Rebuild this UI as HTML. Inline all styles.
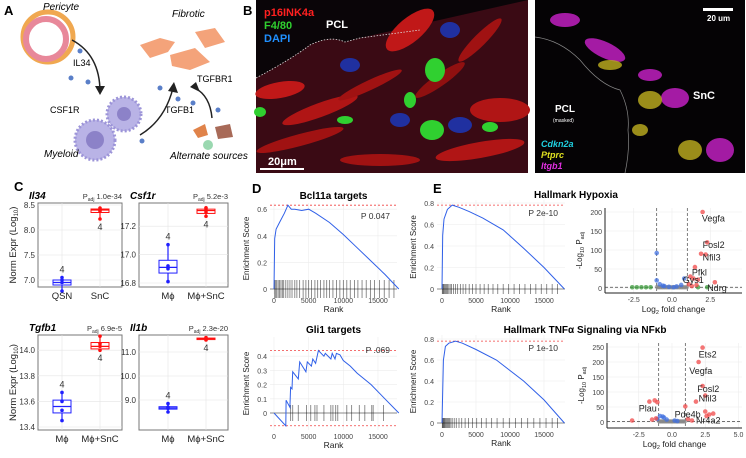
<!DOCTYPE html>
<html><head><meta charset="utf-8">
<style>
html,body{margin:0;padding:0;background:#fff;}
svg{display:block;font-family:"Liberation Sans",Arial,sans-serif;}
</style></head>
<body>
<svg id="fig" width="746" height="458" viewBox="0 0 746 458" xmlns="http://www.w3.org/2000/svg">
<text x="4" y="15" font-size="13" font-weight="bold">A</text>
<text x="243" y="15" font-size="13" font-weight="bold">B</text>
<text x="14" y="191" font-size="13" font-weight="bold">C</text>
<text x="252" y="193" font-size="13" font-weight="bold">D</text>
<text x="433" y="193" font-size="13" font-weight="bold">E</text>

<g>
 <circle cx="48" cy="37" r="25" fill="none" stroke="#f0a850" stroke-width="5"/>
 <circle cx="46" cy="39" r="20" fill="none" stroke="#e8889a" stroke-width="6"/>
 <text x="43" y="10" font-size="10" font-style="italic">Pericyte</text>
 <path d="M72 40 Q100 55 100 92" fill="none" stroke="#222" stroke-width="1.5"/>
 <path d="M95 86 L100 95 L105 86 Z" fill="#222"/>
 <text x="73" y="66" font-size="9">IL34</text>
 <circle cx="80" cy="51" r="2.5" fill="#5a7fc8"/><circle cx="71" cy="78" r="2.5" fill="#5a7fc8"/><circle cx="88" cy="82" r="2.5" fill="#5a7fc8"/>
 <circle cx="95" cy="140" r="20" fill="#b9b3e6" stroke="#9c94d8" stroke-dasharray="2 2" stroke-width="3"/>
 <circle cx="95" cy="140" r="9" fill="#8c82c8"/>
 <circle cx="124" cy="114" r="17" fill="#b9b3e6" stroke="#9c94d8" stroke-dasharray="2 2" stroke-width="3"/>
 <circle cx="124" cy="114" r="7" fill="#8c82c8"/>
 <text x="50" y="113" font-size="9">CSF1R</text>
 <text x="44" y="157" font-size="10" font-style="italic">Myeloid</text>
 <text x="172" y="17" font-size="10" font-style="italic">Fibrotic</text>
 <path d="M140 45 L160 38 L175 42 L168 52 L150 58 Z" fill="#f4a37a"/>
 <path d="M195 32 L215 28 L225 42 L205 48 Z" fill="#f4a37a"/>
 <path d="M170 55 L195 48 L210 62 L190 70 L172 66 Z" fill="#f4a37a"/>
 <text x="197" y="82" font-size="9">TGFBR1</text>
 <text x="165" y="113" font-size="9">TGFB1</text>
 <path d="M140 135 Q165 120 173 88" fill="none" stroke="#222" stroke-width="1.5"/>
 <path d="M168 91 L174 82 L178 93 Z" fill="#222"/>
 <path d="M212 118 Q210 96 195 88" fill="none" stroke="#222" stroke-width="1.5"/>
 <path d="M196 82 L190 87 L200 92 Z" fill="#222"/>
 <circle cx="160" cy="88" r="2.5" fill="#5a7fc8"/><circle cx="178" cy="99" r="2.5" fill="#5a7fc8"/><circle cx="193" cy="103" r="2.5" fill="#5a7fc8"/><circle cx="218" cy="110" r="2.5" fill="#5a7fc8"/><circle cx="142" cy="141" r="2.5" fill="#5a7fc8"/>
 <path d="M193 130 L205 124 L208 135 L198 138 Z" fill="#e0834a"/><path d="M215 127 L230 124 L233 137 L218 139 Z" fill="#a86a58"/>
 <circle cx="208" cy="145" r="5" fill="#9ad8b0"/>
 <text x="170" y="159" font-size="10" font-style="italic">Alternate sources</text>
</g>

<g>
 <rect x="256" y="0" width="272" height="173" fill="#0a0508"/>
 <path d="M256 78 Q290 60 310 45 Q330 35 345 42 L360 38 L528 0 L528 173 L256 173 Z" fill="#3a0a14"/>
 <ellipse cx="280" cy="90" rx="25" ry="8" fill="#c01818" transform="rotate(-10 280 90)"/>
 <ellipse cx="320" cy="110" rx="40" ry="7" fill="#b01515" transform="rotate(-20 320 110)"/>
 <ellipse cx="300" cy="140" rx="45" ry="6" fill="#a01212" transform="rotate(-15 300 140)"/>
 <ellipse cx="410" cy="30" rx="30" ry="12" fill="#c01818" transform="rotate(-40 410 30)"/>
 <ellipse cx="500" cy="110" rx="30" ry="12" fill="#b01515"/>
 <ellipse cx="480" cy="150" rx="45" ry="8" fill="#b01515" transform="rotate(-10 480 150)"/>
 <ellipse cx="380" cy="160" rx="40" ry="6" fill="#a01212"/>
 <ellipse cx="440" cy="80" rx="30" ry="6" fill="#901010" transform="rotate(-35 440 80)"/>
 <ellipse cx="370" cy="85" rx="35" ry="5" fill="#a01212" transform="rotate(-25 370 85)"/>
 <ellipse cx="480" cy="40" rx="30" ry="6" fill="#a01212" transform="rotate(-45 480 40)"/>
 <ellipse cx="350" cy="65" rx="10" ry="7" fill="#2030a0"/><ellipse cx="450" cy="30" rx="10" ry="8" fill="#2030a0"/>
 <ellipse cx="460" cy="125" rx="12" ry="8" fill="#2030a0"/><ellipse cx="400" cy="120" rx="10" ry="7" fill="#2030a0"/>
 <ellipse cx="435" cy="70" rx="10" ry="12" fill="#30d030"/><ellipse cx="432" cy="130" rx="12" ry="10" fill="#30d030"/>
 <ellipse cx="490" cy="127" rx="8" ry="5" fill="#30d030"/><ellipse cx="410" cy="100" rx="6" ry="8" fill="#30d030"/>
 <ellipse cx="345" cy="120" rx="8" ry="4" fill="#30d030"/><ellipse cx="260" cy="112" rx="6" ry="5" fill="#30d030"/>
 <path d="M256 78 Q290 60 310 45 Q330 35 345 42 L360 38 L420 30" fill="none" stroke="#ddd" stroke-dasharray="1.5 1.5" stroke-width="0.8"/>
 <text x="264" y="16" font-size="11" font-weight="bold" fill="#ff2020">p16INK4a</text>
 <text x="264" y="29" font-size="11" font-weight="bold" fill="#30d030">F4/80</text>
 <text x="264" y="42" font-size="11" font-weight="bold" fill="#2090ff">DAPI</text>
 <text x="326" y="28" font-size="11" font-weight="bold" fill="#fff">PCL</text>
 <rect x="260" y="168" width="44" height="2" fill="#fff"/>
 <text x="268" y="165" font-size="11" font-weight="bold" fill="#fff">20μm</text>
</g>
<g>
 <rect x="535" y="0" width="210" height="173" fill="#050305"/>
 <path d="M535 37 Q560 40 580 60 Q600 85 620 90 Q630 110 628 130 Q630 150 625 173" fill="none" stroke="#888" stroke-width="0.7"/>
 <g fill="#c020c0" opacity="0.85">
  <ellipse cx="565" cy="20" rx="15" ry="7"/><ellipse cx="605" cy="50" rx="22" ry="8" transform="rotate(25 605 50)"/>
  <ellipse cx="675" cy="98" rx="14" ry="10"/><ellipse cx="720" cy="150" rx="14" ry="12"/><ellipse cx="650" cy="75" rx="12" ry="6"/>
 </g>
 <g fill="#c0b020" opacity="0.8">
  <ellipse cx="610" cy="65" rx="12" ry="5"/><ellipse cx="650" cy="100" rx="12" ry="9"/><ellipse cx="690" cy="150" rx="12" ry="10"/><ellipse cx="640" cy="130" rx="8" ry="6"/>
 </g>
 <rect x="703" y="8" width="30" height="3" fill="#fff"/>
 <text x="707" y="21" font-size="8" font-weight="bold" fill="#fff">20 um</text>
 <text x="693" y="99" font-size="11" font-weight="bold" fill="#fff">SnC</text>
 <text x="555" y="112" font-size="10" font-weight="bold" fill="#fff">PCL</text>
 <text x="553" y="122" font-size="5" fill="#fff">(masked)</text>
 <text x="541" y="147" font-size="9" font-weight="bold" font-style="italic" fill="#20d0e0">Cdkn2a</text>
 <text x="541" y="158" font-size="9" font-weight="bold" font-style="italic" fill="#e0e020">Ptprc</text>
 <text x="541" y="169" font-size="9" font-weight="bold" font-style="italic" fill="#e030e0">Itgb1</text>
</g>
<g id="charts"></g>
</svg>
<script>
// ---------- Box plot data ----------
const il34Groups = ["QSN","SnC"];
const il34Points = [[6.78,6.95,7.0,7.05],[8.22,8.38,8.4,8.44]];
const il34Box = [[6.9,6.95,7.0],[8.35,8.4,8.42]];
const il34Ticks = [7.0,7.5,8.0,8.5];
const csf1rGroups = ["Mϕ","Mϕ+SnC"];
const csf1rPoints = [[16.81,16.9,16.92,17.07],[17.27,17.3,17.32,17.33]];
const csf1rBox = [[16.87,16.91,16.96],[17.29,17.31,17.32]];
const csf1rTicks = [16.8,17.0,17.2];
const tgfb1Groups = ["Mϕ","Mϕ+SnC"];
const tgfb1Points = [[13.45,13.53,13.6,13.67],[14.0,14.03,14.05,14.11]];
const tgfb1Box = [[13.51,13.56,13.61],[14.01,14.03,14.06]];
const tgfb1Ticks = [13.4,13.6,13.8,14.0];
const il1bGroups = ["Mϕ","Mϕ+SnC"];
const il1bPoints = [[8.5,8.65,8.7,8.85],[11.5,11.55,11.6]];
const il1bBox = [[8.62,8.67,8.72],[11.53,11.56,11.58]];
const il1bTicks = [9.0,10.0,11.0];
// ---------- GSEA data ----------
const bcl11aRank = [0,100,300,800,1500,2000,2500,3000,4000,5000,6000,8000,10000,12000,14000,16000,18000];
const bcl11aES = [0,0.38,0.45,0.5,0.57,0.63,0.6,0.6,0.59,0.6,0.57,0.5,0.41,0.31,0.21,0.11,0];
const bcl11aHits = [100,250,400,600,800,1000,1200,1400,1700,2000,2300,2600,3000,3300,3700,4200,4600,5000,5400,5900,6300,6700,7200,7600,8000,8500,9000,9500,10000,10500,11000,11600,12100,12700,13300,13900,14500,15200,15900,16600,17300];
const bcl11aTicks = [0,0.2,0.4,0.6];
const gli1Rank = [0,1700,1750,2300,2400,2600,2700,3500,3700,4600,4800,5400,5600,6000,6400,7200,7400,8200,8400,8800,9000,9500,10000,11000,12000,14000,16000,18000];
const gli1ES = [0,-0.09,0.09,0.04,0.18,0.17,0.29,0.24,0.36,0.29,0.36,0.33,0.38,0.35,0.44,0.4,0.42,0.38,0.42,0.38,0.42,0.41,0.37,0.33,0.28,0.2,0.1,0];
const gli1Hits = [2400,2700,3500,4700,5300,5900,6200,7200,8200,8500,8900,9200,10500,11200,12300,13100,14100,14300,15800];
const gli1Ticks = [0,0.1,0.2,0.3,0.4];
const hypoxiaRank = [0,100,300,800,1500,2500,4000,6000,9000,12000,15000,18000];
const hypoxiaES = [0,0.5,0.65,0.74,0.78,0.76,0.72,0.66,0.55,0.38,0.2,0];
const hypoxiaHits = [50,150,250,350,500,650,800,1000,1200,1400,1700,2000,2300,2700,3100,3500,4000,4500,5000,5600,6200,6800,7500,8200,9000,9800,10600,11400,12200,13000,13800,14600,15400,16200,17000];
const tnfRank = [0,200,500,1000,2000,3000,5000,8000,12000,15000,18000];
const tnfES = [0,0.6,0.73,0.76,0.78,0.76,0.7,0.6,0.4,0.22,0];
const tnfHits = [50,120,200,300,400,500,650,800,950,1100,1300,1500,1800,2100,2500,2900,3400,3900,4500,5100,5800,6500,7300,8100,9000,9900,10800,11700,12600,13500,14400,15300,16200,17000];
const esTicks08 = [0,0.2,0.4,0.6,0.8];
const rankTicks = [0,5000,10000,15000];
// ---------- Volcano data ----------
const hypRedLfc = [2,2.3,1.9,2.2,1.5,1.2,1.4,1.7,2.8,1.1,1.3,1.6];
const hypRedP = [200,120,90,88,55,30,25,22,15,10,5,8];
const hypBlueLfc = [-1,-1,-0.8,-0.5,-0.2,0.3,0.8,0.6,-0.6,0.1];
const hypBlueP = [92,20,10,5,3,4,25,8,6,2];
const hypGreenLfc = [-2.6,-2.3,-2,-1.7,-1.4,1.7,2.3];
const hypGreenP = [2,2,2,2,2,2,2];
const tnfRedLfc = [2.3,2,2.3,2.5,1.8,1,-1.3,-1.7,-1.1,2.5,2.8,3.1,2.6,-3,-1.5,1.2,1.5,-1.2];
const tnfRedP = [248,200,120,88,68,52,72,68,66,35,25,28,20,5,8,10,5,12];
const tnfBlueLfc = [-0.9,-0.6,-0.4,0.2,-1.1,-0.7,0.4];
const tnfBlueP = [20,15,8,5,10,18,3];

const NS="http://www.w3.org/2000/svg";
const root=document.getElementById('charts');
function mk(tag,attrs,parent){const e=document.createElementNS(NS,tag);for(const k in attrs)e.setAttribute(k,attrs[k]);(parent||root).appendChild(e);return e;}
function txt(s,attrs,parent){const e=mk('text',attrs,parent);e.textContent=s;return e;}

function boxPanel(cfg){
 const g=mk('g',{});
 
 
 const y=v=>cfg.y0+(v-cfg.v0)*cfg.sy;
 mk('rect',{x:cfg.x0,y:cfg.top,width:cfg.x1-cfg.x0,height:cfg.bot-cfg.top,fill:'#fff',stroke:'#777','stroke-width':1},g);
 cfg.ticks.forEach(t=>{
  mk('line',{x1:cfg.x0,x2:cfg.x1,y1:y(t),y2:y(t),stroke:'#e4e4e4','stroke-width':0.6},g);
  const tl=txt(t.toFixed(1),{x:cfg.x0-3,y:y(t)+3,'font-size':8,'text-anchor':'end',fill:'#333'},g);
  
  
 });
 cfg.groups.forEach((gn,i)=>{
  const cx=cfg.xs[i], col=i==0?'#2020ff':'#ff1010';
  mk('line',{x1:cx,x2:cx,y1:cfg.top,y2:cfg.bot,stroke:'#e4e4e4','stroke-width':0.6},g);
  const pts=cfg.points[i], b=cfg.box[i];
  const lo=Math.min(...pts), hi=Math.max(...pts);
  mk('line',{x1:cx,x2:cx,y1:y(lo),y2:y(hi),stroke:col,'stroke-width':1.2},g);
  const r=mk('rect',{x:cx-9,y:y(b[2]),width:18,height:Math.max(1.5,y(b[0])-y(b[2])),fill:'#fff',stroke:col,'stroke-width':1},g);
  
  
  mk('line',{x1:cx-9,x2:cx+9,y1:y(b[1]),y2:y(b[1]),stroke:col,'stroke-width':1.2},g);
  pts.forEach(p=>{const c=mk('circle',{cx:cx,cy:y(p),r:1.8,fill:col},g);
   
   });
  const ny=i==0?y(hi)-5:y(lo)+11;
  txt('4',{x:cx,y:ny,'font-size':9,'text-anchor':'middle',fill:'#333'},g);
  const xl=txt(gn,{x:cx,y:cfg.bot+12,'font-size':9.5,'text-anchor':'middle',fill:'#222'},g);
  
  
 });
 const t=txt(cfg.gene,{x:cfg.x0-9,y:cfg.top-4,'font-size':10,'font-weight':'bold','font-style':'italic'},g);
 
 
 const p=txt('',{x:cfg.x1,y:cfg.top-4,'font-size':7.5,'text-anchor':'end',fill:'#333'},g);
 p.innerHTML='P<tspan font-size="5" dy="2">adj</tspan><tspan dy="-2"> '+cfg.p+'</tspan>';
 
 
 if(cfg.ylab){const yl=txt('',{transform:`translate(16,${(cfg.top+cfg.bot)/2}) rotate(-90)`,'font-size':9.5,'text-anchor':'middle',fill:'#222'},g);
  yl.innerHTML='Norm Expr (Log<tspan font-size="6" dy="2">10</tspan><tspan dy="-2">)</tspan>';
  
  }
}
boxPanel({name:'box-il34',gene:'Il34',p:'1.0e-34',groups:il34Groups,points:il34Points,box:il34Box,ticks:il34Ticks,x0:38,x1:122,top:203,bot:287,xs:[62,100],y0:280,v0:7.0,sy:-50,ylab:true});
boxPanel({name:'box-csf1r',gene:'Csf1r',p:'5.2e-3',groups:csf1rGroups,points:csf1rPoints,box:csf1rBox,ticks:csf1rTicks,x0:139,x1:228,top:203,bot:287,xs:[168,206],y0:283,v0:16.8,sy:-142});
boxPanel({name:'box-tgfb1',gene:'Tgfb1',p:'6.9e-5',groups:tgfb1Groups,points:tgfb1Points,box:tgfb1Box,ticks:tgfb1Ticks,x0:38,x1:122,top:335,bot:430,xs:[62,100],y0:427,v0:13.4,sy:-128,ylab:true});
boxPanel({name:'box-il1b',gene:'Il1b',p:'2.3e-20',groups:il1bGroups,points:il1bPoints,box:il1bBox,ticks:il1bTicks,x0:139,x1:228,top:335,bot:430,xs:[168,206],y0:400,v0:9.0,sy:-24});

function gsea(cfg){
 const g=mk('g',{});
 
 
 const x=r=>cfg.x0+r*cfg.sx, y=v=>cfg.y0-v*cfg.sy;
 cfg.ticks.forEach(t=>{mk('line',{x1:cfg.left,x2:cfg.right,y1:y(t),y2:y(t),stroke:'#ececec','stroke-width':0.6},g);
  const tl=txt(String(t),{x:cfg.left-3,y:y(t)+3,'font-size':7,'text-anchor':'end',fill:'#444'},g);
  
  });
 rankTicks.forEach(t=>{mk('line',{x1:x(t),x2:x(t),y1:cfg.top,y2:cfg.bot,stroke:'#ececec','stroke-width':0.6},g);
  const tl=txt(String(t),{x:x(t),y:cfg.bot+9,'font-size':7,'text-anchor':'middle',fill:'#444'},g);
  
  });
 mk('line',{x1:cfg.left,x2:cfg.right,y1:y(0),y2:y(0),stroke:'#666','stroke-width':0.8},g);
 const mx=Math.max(...cfg.es), mn=Math.min(...cfg.es);
 mk('line',{x1:cfg.left,x2:cfg.right,y1:y(mx),y2:y(mx),stroke:'#f04040','stroke-dasharray':'2 2','stroke-width':0.8},g);
 if(mn<0) mk('line',{x1:cfg.left,x2:cfg.right,y1:y(mn),y2:y(mn),stroke:'#f04040','stroke-dasharray':'2 2','stroke-width':0.8},g);
 const hh=cfg.hitH;
 cfg.hits.forEach(h=>{const l=mk('line',{x1:x(h),x2:x(h),y1:y(0)-hh,y2:y(0)+hh,stroke:'#000','stroke-opacity':0.55,'stroke-width':0.8},g);
  
  });
 const d=cfg.rank.map((r,i)=>(i?'L':'M')+x(r).toFixed(1)+' '+y(cfg.es[i]).toFixed(1)).join(' ');
 const p=mk('path',{d:d,fill:'none',stroke:'#3060e8','stroke-width':1},g);
 
 
 if(cfg.title){const t=txt(cfg.title,{x:(cfg.left+cfg.right)/2,y:cfg.top-4,'font-size':10,'font-weight':'bold','text-anchor':'middle'},g);
  
  }
 const pv=txt(cfg.p,{x:cfg.right-7,y:cfg.top+16,'font-size':8.5,'text-anchor':'end',fill:'#333'},g);
 
 
 const yl=txt('Enrichment Score',{transform:`translate(${cfg.left-21},${(cfg.top+cfg.bot)/2}) rotate(-90)`,'font-size':8,'text-anchor':'middle',fill:'#222'},g);
 
 
 const xl=txt('Rank',{x:(cfg.left+cfg.right)/2,y:cfg.bot+18,'font-size':8.5,'text-anchor':'middle',fill:'#222'},g);
 
 
}
gsea({name:'gsea-bcl11a',title:'Bcl11a targets',p:'P 0.047',rank:bcl11aRank,es:bcl11aES,hits:bcl11aHits,ticks:bcl11aTicks,left:270,right:397,top:203,bot:294,x0:274,sx:104/15000,y0:289,sy:133,hitH:9});
gsea({name:'gsea-gli1',title:'Gli1 targets',p:'P .069',rank:gli1Rank,es:gli1ES,hits:gli1Hits,ticks:gli1Ticks,left:270,right:397,top:337,bot:430,x0:274,sx:104/15000,y0:413,sy:142,hitH:8});
gsea({name:'gsea-hypoxia',title:'',p:'P 2e-10',rank:hypoxiaRank,es:hypoxiaES,hits:hypoxiaHits,ticks:esTicks08,left:437,right:565,top:200,bot:294,x0:442,sx:0.0068,y0:289,sy:107.5,hitH:5});
gsea({name:'gsea-tnfa',title:'',p:'P 1e-10',rank:tnfRank,es:tnfES,hits:tnfHits,ticks:esTicks08,left:437,right:565,top:335,bot:428,x0:442,sx:0.0068,y0:423,sy:105,hitH:5});

function volcano(cfg){
 const g=mk('g',{});
 
 
 const x=v=>cfg.x0+v*cfg.sx, y=v=>cfg.y0-v*cfg.sy;
 cfg.yt.forEach(t=>{mk('line',{x1:cfg.left,x2:cfg.right,y1:y(t),y2:y(t),stroke:'#ececec','stroke-width':0.6},g);
  const tl=txt(String(t),{x:cfg.left-3,y:y(t)+3,'font-size':7,'text-anchor':'end',fill:'#444'},g);
  
  });
 cfg.xt.forEach(t=>{mk('line',{x1:x(t),x2:x(t),y1:cfg.top,y2:cfg.bot,stroke:'#ececec','stroke-width':0.6},g);
  const tl=txt(t.toFixed(1),{x:x(t),y:cfg.bot+9,'font-size':7,'text-anchor':'middle',fill:'#444'},g);
  
  });
 mk('line',{x1:cfg.left,x2:cfg.left,y1:cfg.top,y2:cfg.bot,stroke:'#222','stroke-width':1},g);
 mk('line',{x1:cfg.left,x2:cfg.right,y1:cfg.bot,y2:cfg.bot,stroke:'#222','stroke-width':1},g);
 [-1,1].forEach(v=>mk('line',{x1:x(v),x2:x(v),y1:cfg.top,y2:cfg.bot,stroke:'#444','stroke-dasharray':'3 2','stroke-width':0.7},g));
 mk('line',{x1:cfg.left,x2:cfg.right,y1:y(2),y2:y(2),stroke:'#444','stroke-dasharray':'3 2','stroke-width':0.7},g);
 for(let i=-20;i<=20;i++){mk('circle',{cx:x(i*0.05),cy:y(1+Math.abs(i)%3),r:2,fill:'#888','fill-opacity':0.5},g);}
 const sets=[[cfg.gl,cfg.gp,'#3a9a3a'],[cfg.bl,cfg.bp,'#4070e0'],[cfg.rl,cfg.rp,'#f04848']];
 sets.forEach(s=>{if(!s[0])return;s[0].forEach((l,i)=>{const c=mk('circle',{cx:x(l),cy:y(s[1][i]),r:2.3,fill:s[2],'fill-opacity':0.75},g);
  
  });});
 cfg.labels.forEach(L=>{const t=txt(L[0],{x:x(L[1]),y:y(L[2]),'font-size':9,fill:'#222'},g);
  
  });
 const yl=txt('',{transform:`translate(${cfg.left-23},${(cfg.top+cfg.bot)/2}) rotate(-90)`,'font-size':8,'text-anchor':'middle',fill:'#222'},g);
 yl.innerHTML='-Log<tspan font-size="5.5" dy="2">10</tspan><tspan dy="-2"> P</tspan><tspan font-size="5.5" dy="2">adj</tspan>';
 
 
 const xl=txt('',{x:(cfg.left+cfg.right)/2,y:cfg.bot+19,'font-size':8.5,'text-anchor':'middle',fill:'#222'},g);
 xl.innerHTML='Log<tspan font-size="5.5" dy="2">2</tspan><tspan dy="-2"> fold change</tspan>';
 
 
}
volcano({name:'volcano-hypoxia',left:605,right:742,top:208,bot:293,x0:672,sx:15.3,y0:288,sy:0.38,yt:[0,50,100,150,200],xt:[-2.5,0,2.5],
 rl:hypRedLfc,rp:hypRedP,bl:hypBlueLfc,bp:hypBlueP,gl:hypGreenLfc,gp:hypGreenP,
 labels:[['Vegfa',1.95,175],['Fosl2',2.0,105],['Nfil3',2.0,72],['Pfkl',1.3,33],['Gys1',0.7,13],['Ndrg',2.3,-8]]});
volcano({name:'volcano-tnfa',left:607,right:742,top:343,bot:428,x0:672,sx:13.3,y0:422,sy:0.3,yt:[0,50,100,150,200,250],xt:[-2.5,0,2.5,5],
 rl:tnfRedLfc,rp:tnfRedP,bl:tnfBlueLfc,bp:tnfBlueP,gl:null,gp:null,
 labels:[['Ets2',2.0,215],['Vegfa',1.3,160],['Fosl2',1.9,100],['Nfil3',2.0,68],['Plau',-2.5,35],['Pde4b',0.2,15],['Nr4a2',1.8,-5]]});
const ht=txt('Hallmark Hypoxia',{x:576,y:198,'font-size':10,'font-weight':'bold','text-anchor':'middle'});


const tt=txt('Hallmark TNFα Signaling via NFκb',{x:585,y:333,'font-size':10,'font-weight':'bold','text-anchor':'middle'});


</script>
</body></html>
